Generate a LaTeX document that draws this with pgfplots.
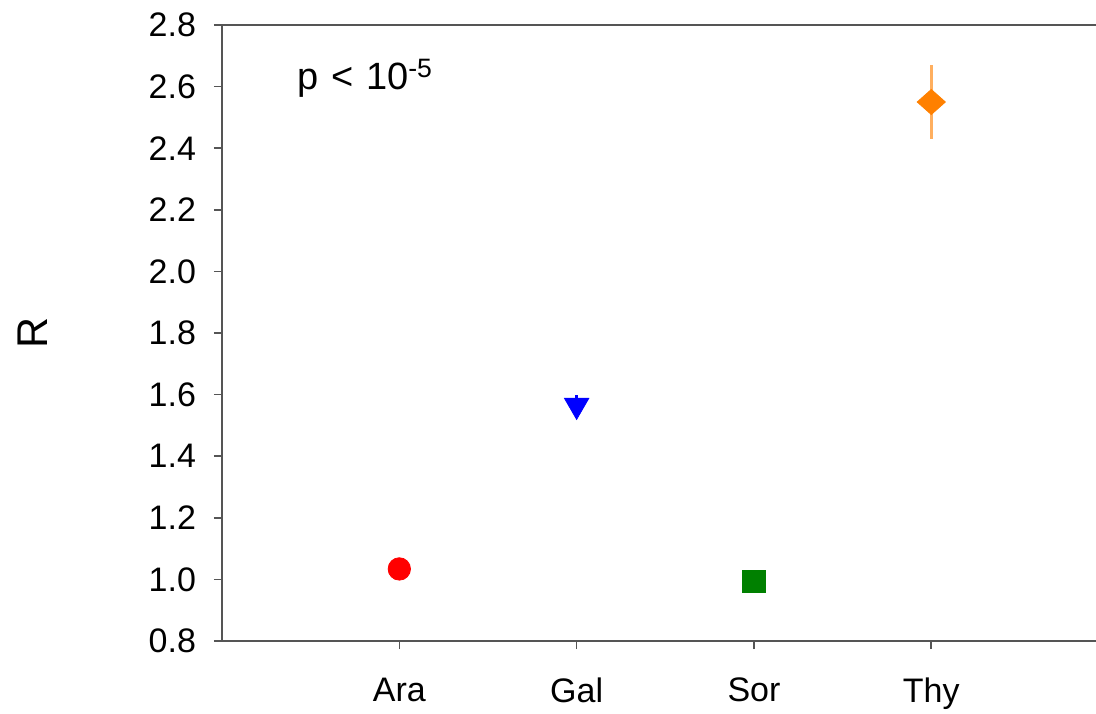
\documentclass[border=0pt]{standalone}
\usepackage{pgfplots}
\pgfplotsset{compat=1.18}
\usepackage{fontspec}
\setmainfont{Liberation Sans}
\definecolor{axgray}{RGB}{85,85,85}
\definecolor{mred}{RGB}{255,0,0}
\definecolor{mblue}{RGB}{0,0,255}
\definecolor{mgreen}{RGB}{0,128,0}
\definecolor{morange}{RGB}{255,128,0}
\definecolor{lorange}{RGB}{255,175,95}
\begin{document}
\begin{tikzpicture}
\begin{axis}[
  at={(0,0)}, anchor=south west,
  scale only axis,
  width=443.3pt, height=308pt,
  xmin=0, xmax=5, ymin=0.8, ymax=2.8,
  xtick={1,2,3,4},
  xticklabels={Ara,Gal,Sor,Thy},
  ytick={0.8,1.0,...,2.8},
  xtick pos=bottom, ytick pos=left,
  tick align=outside,
  major tick length=4pt,
  axis line style={axgray, line width=0.8pt},
  every tick/.style={axgray, line width=0.8pt},
  /pgf/number format/assume math mode=true,
  y tick label style={/pgf/number format/fixed, /pgf/number format/fixed zerofill, /pgf/number format/precision=1, xshift=-5.5pt},
  tick label style={font=\fontsize{17}{20}\selectfont, text=black},
  xticklabel style={yshift=-11pt},
  ylabel={R},
  ylabel style={at={(axis description cs:-0.213,0.5)}, anchor=center, font=\fontsize{21.5}{25}\selectfont},
  clip=false,
]
\addplot[only marks, mark=*, mark size=5.6pt, color=mred] coordinates {(1,1.034)};
\addplot[only marks, mark=triangle*, mark size=7pt, mark options={rotate=180}, color=mblue,
  error bars/.cd, y dir=both, y explicit, error mark=none,
  error bar style={mblue, line width=1.2pt}] coordinates {(2,1.565) +- (0,0.035)};
\addplot[only marks, mark=square*, mark size=5.6pt, color=mgreen] coordinates {(3,0.993)};
\addplot[only marks, mark=diamond*, mark size=6.25pt, mark options={xscale=1.5}, color=morange,
  error bars/.cd, y dir=both, y explicit, error mark=none,
  error bar style={lorange, line width=1.4pt}] coordinates {(4,2.55) +- (0,0.12)};
\node[anchor=base west, inner sep=0pt, font=\fontsize{19}{22}\selectfont] at (axis cs:0.423,2.589) {p\,\,<\,\,10\textsuperscript{-5}};
\end{axis}
\pgfresetboundingbox
\useasboundingbox (-111pt,-36pt) rectangle (437pt,320.5pt);
\end{tikzpicture}
\end{document}
